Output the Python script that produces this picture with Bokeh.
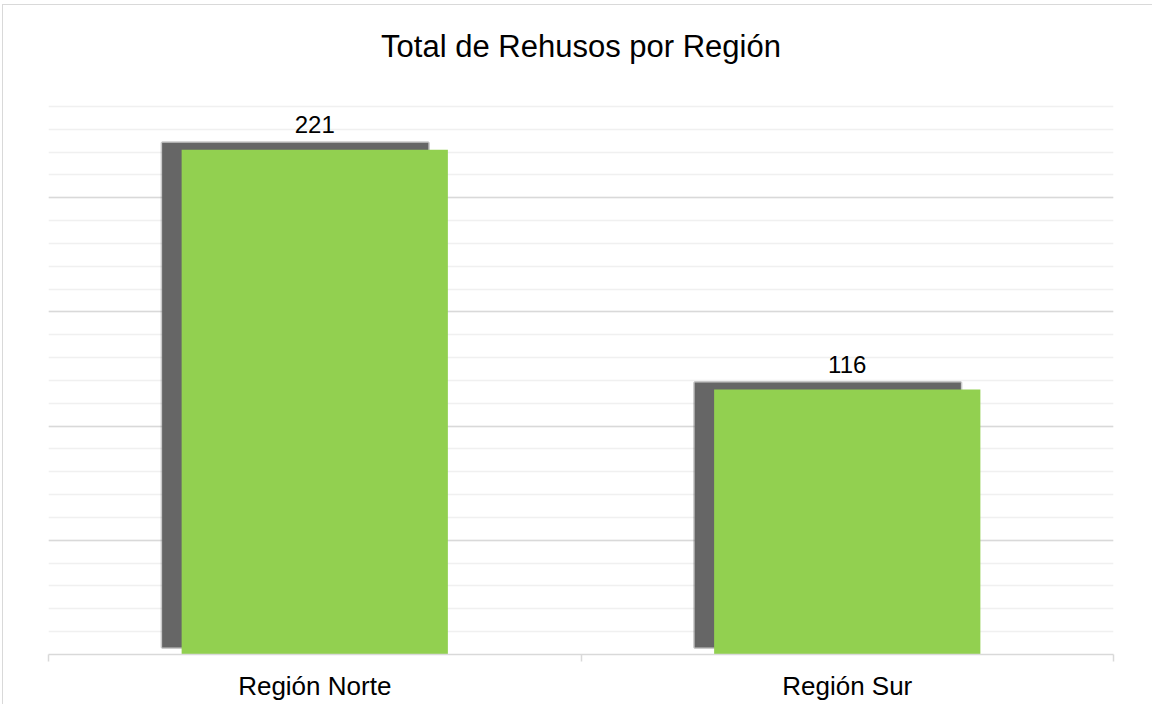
from bokeh.plotting import figure
from bokeh.models import (ColumnDataSource, FactorRange, Range1d, LinearAxis,
                          FixedTicker, SingleIntervalTicker, LabelSet)
from bokeh.transform import dodge
from bokeh.core.properties import value
from bokeh.embed import file_html
from bokeh.resources import INLINE

# ---- data ----
regions = ["Región Norte", "Región Sur"]
totals = [221, 116]
title_text = "Total de Rehusos por Región"

FONT = "Liberation Sans"
Y_MAX = 250

# layout
ML, MR, MT, MB = 45, 40, 78, 51
FW, FH = 1065, 571
W = ML + FW + MR
H = MT + FH + MB

# shadow offset in pixels -> converted to data units
SH_DX_PX, SH_DY_PX = -19.5, 7.0
sh_dx = SH_DX_PX / (FW / len(regions))
sh_dy = SH_DY_PX / (FH / Y_MAX)

src = ColumnDataSource(dict(region=regions, total=totals,
                            label=[str(v) for v in totals]))

p = figure(x_range=FactorRange(factors=regions, range_padding=0),
           y_range=Range1d(0, Y_MAX),
           width=W, height=H, output_backend="svg", toolbar_location=None,
           x_axis_location=None, y_axis_location=None,
           min_border_left=ML, min_border_right=MR,
           min_border_top=MT, min_border_bottom=MB)
p.styles = {"margin-left": "2px", "margin-top": "3.5px",
            "border-left": "1px solid #d9d9d9", "border-top": "1px solid #d9d9d9"}
p.outline_line_color = None
p.background_fill_color = "white"
p.border_fill_color = "white"

# grid
p.xgrid.visible = False
p.ygrid.ticker = SingleIntervalTicker(interval=50, num_minor_ticks=5)
p.ygrid.grid_line_color = "#d9d9d9"
p.ygrid.grid_line_width = 1.5
p.ygrid.minor_grid_line_color = "#f0f0f0"
p.ygrid.minor_grid_line_width = 1.5

# title
p.title.text = title_text
p.title.align = "center"
p.title.text_font = FONT
p.title.text_font_size = "31px"
p.title.text_font_style = "normal"
p.title.text_color = "#000000"
p.title.standoff = 40

# shadow (soft edge + solid)
p.vbar(x=dodge("region", sh_dx, range=p.x_range), width=0.5,
       top=dodge("total", sh_dy), bottom=sh_dy, source=src,
       fill_color="#666666", line_color="#666666", line_alpha=0.35, line_width=3)

# bars
p.vbar(x="region", width=0.5, top="total", bottom=0, source=src,
       fill_color="#92d050", line_color=None)

# data labels
labels = LabelSet(x="region", y="total", text="label", source=src,
                  text_align="center", text_baseline="alphabetic", y_offset=17,
                  text_font=value(FONT), text_font_size="24px", text_color="#000000")
p.add_layout(labels)

# x axis: labels at category centres, tick marks at category boundaries
# (synthetic coordinates of the factor range)
n = len(regions)
centres = [i + 0.5 for i in range(n)]
bounds = [float(i) for i in range(n + 1)]
xaxis = LinearAxis(ticker=FixedTicker(ticks=centres, minor_ticks=bounds),
                   major_label_overrides={c: r for c, r in zip(centres, regions)},
                   axis_line_color="#d9d9d9", axis_line_width=1.5,
                   major_tick_line_color=None,
                   minor_tick_line_color="#d9d9d9", minor_tick_line_width=1.5,
                   minor_tick_in=0, minor_tick_out=7,
                   major_label_text_font=FONT, major_label_text_font_size="26px",
                   major_label_text_color="#000000", major_label_standoff=9)
p.add_layout(xaxis, "below")

open("out.html", "w").write(file_html(p, INLINE))
